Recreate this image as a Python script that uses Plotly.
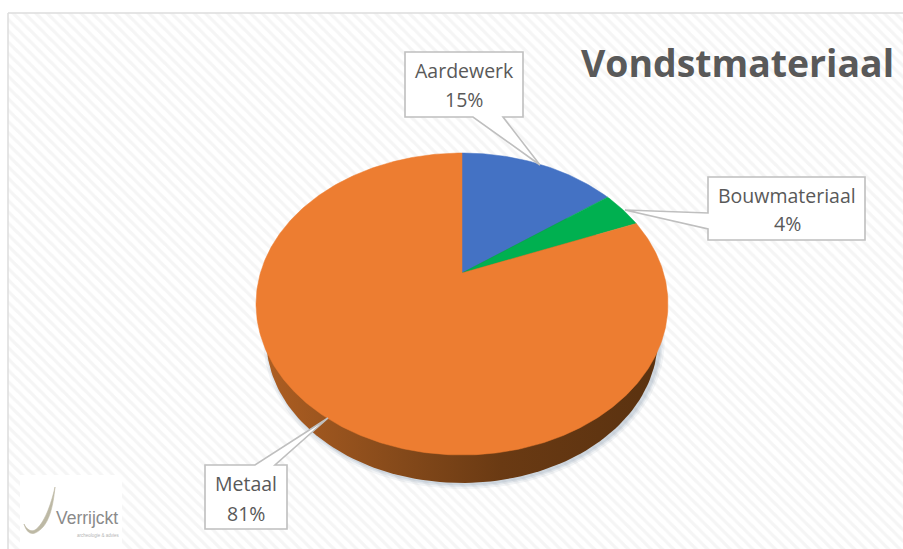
import numpy as np
import plotly.graph_objects as go

# --- data ---
categories = ["Aardewerk", "Bouwmateriaal", "Metaal"]
values = [15, 4, 81]
colors = ["#4472C4", "#00B050", "#ED7D31"]
title = "Vondstmateriaal"

# --- projection of the tilted pie on the page (page pixels) ---
W, H = 903, 549
CX, CY = 462.0, 273.0
PERSP = 0.2053
RY_K = 88.6
RX_K = 201.6
RIM_CY = 304.0
BASE_SCALE = 0.95
BASE_SHIFT = 35.5


def project(theta):
    u, v = np.sin(theta), np.cos(theta)
    w = 1 + PERSP * v
    return CX + RX_K * u / w, (CY - RY_K * v) / w


def project_base(theta, grow=0.0, dx=0.0, dy=0.0):
    px, py = project(theta)
    return (CX + (px - CX) * (BASE_SCALE + grow / 206) + dx,
            RIM_CY + BASE_SHIFT + (py - RIM_CY) * (BASE_SCALE + grow / 151) + dy)


fig = go.Figure()

# chart area with the faint diagonal hatch
fig.add_trace(go.Scatter(
    x=[8, W + 5, W + 5, 8, 8], y=[13, 13, H + 5, H + 5, 13],
    mode="lines", fill="toself", line=dict(width=0),
    fillcolor="#ffffff",
    fillpattern=dict(shape="\\", size=8, solidity=0.4, fgcolor="#ececec", bgcolor="#ffffff"),
    hoverinfo="skip", showlegend=False))

# soft shadow under the disc
full_t = np.linspace(0, 2 * np.pi, 240)
for grow, alpha in [(5, 0.10), (3, 0.14), (1.5, 0.18)]:
    sx, sy = project_base(full_t, grow, 2, 1)
    fig.add_trace(go.Scatter(
        x=sx, y=sy, mode="lines", fill="toself", line=dict(width=0),
        fillcolor=f"rgba(130,150,170,{alpha})", hoverinfo="skip", showlegend=False))

# side wall, darkening towards the right
bx, by = project_base(full_t)
fig.add_trace(go.Scatter(
    x=bx, y=by, mode="lines", fill="toself", line=dict(width=0),
    fillgradient=dict(type="horizontal",
                      colorscale=[[0, "#AD5E22"], [0.35, "#84491A"], [0.6, "#6A3A13"], [1, "#5A3210"]]),
    hoverinfo="skip", showlegend=False))

# top face, one polygon per value
total = sum(values)
start = 0.0
for cat, val, col in zip(categories, values, colors):
    end = start + val / total * 2 * np.pi
    t = np.linspace(start, end, max(int(val * 5), 12))
    rx, ry = project(t)
    fig.add_trace(go.Scatter(
        x=np.concatenate([[CX], rx, [CX]]), y=np.concatenate([[CY], ry, [CY]]),
        mode="lines", fill="toself", line=dict(width=0.5, color=col),
        fillcolor=col, name=cat, hoverinfo="skip", showlegend=False))
    start = end

BORDER = dict(color="#BFBFBF", width=1.6)
shapes = [
    # frame
    dict(type="line", x0=8, x1=8, y0=13, y1=H, line=dict(color="#DDDDDD", width=1.5)),
    dict(type="line", x0=8, x1=W, y0=13, y1=13, line=dict(color="#DDDDDD", width=1.5)),
    # callouts
    dict(type="path", path="M405,52 L523,52 L523,117 L503,117 L540,165 L473,117 L405,117 Z",
         fillcolor="#ffffff", line=BORDER),
    dict(type="path", path="M708,177 L865,177 L865,240 L708,240 L708,229 L625,210 L708,213 Z",
         fillcolor="#ffffff", line=BORDER),
    dict(type="path", path="M205,465 L255,465 L328,418 L275,465 L287,465 L287,529 L205,529 Z",
         fillcolor="#ffffff", line=BORDER),
    # logo patch and curve
    dict(type="rect", x0=20, x1=122, y0=475, y1=549, fillcolor="#ffffff", line=dict(width=0)),
    dict(type="path",
         path="M55,487 C53,507 49,527 35,533 C30,535 26,531 24,524 C27,530 31,532 35,530 C44,524 51,505 55,487 Z",
         fillcolor="#BDB9A5", line=dict(color="#BDB9A5", width=0.6)),
]

TXT = "#595959"
FONT = "Open Sans"
LABEL = dict(family=FONT, size=19.5, color=TXT)
annotations = [
    dict(x=737, y=62, text=f"<b>{title}</b>", font=dict(family=FONT, size=37.4, color=TXT)),
    dict(x=464, y=70, text=categories[0], font=LABEL),
    dict(x=464, y=99, text=f"{values[0]}%", font=LABEL),
    dict(x=787, y=195, text=categories[1], font=LABEL),
    dict(x=787, y=223, text=f"{values[1]}%", font=LABEL),
    dict(x=246, y=483, text=categories[2], font=LABEL),
    dict(x=246, y=513, text=f"{values[2]}%", font=LABEL),
    dict(x=87, y=518, text="Verrijckt", font=dict(family="Liberation Sans", size=17.5, color="#8A8A8A")),
    dict(x=98, y=535, text="archeologie & advies", font=dict(family="Liberation Sans", size=4.5, color="#B5B5B5")),
]
for a in annotations:
    a.update(xref="x", yref="y", showarrow=False, xanchor="center", yanchor="middle")

fig.update_layout(
    width=W, height=H, margin=dict(l=0, r=0, t=0, b=0),
    paper_bgcolor="#ffffff", plot_bgcolor="#ffffff", showlegend=False,
    xaxis=dict(range=[0, W], visible=False, fixedrange=True),
    yaxis=dict(range=[H, 0], visible=False, fixedrange=True),
    shapes=shapes, annotations=annotations,
)
fig.write_html("out.html", config=dict(displayModeBar=False),
               post_script="document.body.style.margin='0';document.documentElement.style.overflow='hidden';")
